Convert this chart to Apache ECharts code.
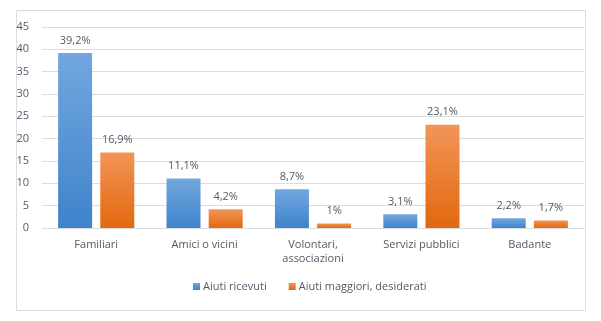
<!DOCTYPE html>
<html><head><meta charset="utf-8">
<script src="https://cdn.jsdelivr.net/npm/echarts@6/dist/echarts.min.js"></script>
<style>html,body{margin:0;padding:0;background:#fff}#c{width:601px;height:321px}</style>
</head><body><div id="c"></div>
<script>
const categories = ['Familiari', 'Amici o vicini', 'Volontari,\nassociazioni', 'Servizi pubblici', 'Badante'];
const ricevuti = [39.2, 11.1, 8.7, 3.1, 2.2];
const desiderati = [16.9, 4.2, 1, 23.1, 1.7];
const seriesNames = ['Aiuti ricevuti', 'Aiuti maggiori, desiderati'];
const fmt = v => String(v.value).replace('.', ',') + '%';
const font = '"Open Sans", "Noto Sans", sans-serif';
const txt = '#525A66';
const grad = (a, b) => new echarts.graphic.LinearGradient(0, 0, 0, 1, [{offset: 0, color: a}, {offset: 1, color: b}]);
const chart = echarts.init(document.getElementById('c'), null, {renderer: 'canvas'});
chart.setOption({
  animation: false,
  textStyle: {fontFamily: font},
  graphic: [{type: 'rect', shape: {x: 16.5, y: 10.5, width: 569, height: 300}, style: {fill: 'none', stroke: '#D9DCE1', lineWidth: 1}, silent: true}],
  grid: {left: 42, top: 27, width: 542, height: 201},
  legend: {
    bottom: 24, left: 188, itemWidth: 7, itemHeight: 7, itemGap: 22,
    icon: 'rect',
    textStyle: {fontSize: 11, color: txt, fontFamily: font, padding: [0, 0, 0, -2]},
    data: seriesNames
  },
  xAxis: {
    type: 'category', data: categories,
    axisLine: {lineStyle: {color: '#D9DCE1'}},
    axisTick: {show: false},
    axisLabel: {color: txt, fontSize: 11, margin: 10, lineHeight: 14, fontFamily: font}
  },
  yAxis: {
    type: 'value', min: 0, max: 45, interval: 5,
    axisLine: {show: false}, axisTick: {show: false},
    splitLine: {lineStyle: {color: '#D9DCE1'}},
    axisLabel: {color: txt, fontSize: 11, margin: 13, fontFamily: font}
  },
  series: [
    {name: seriesNames[0], type: 'bar', data: ricevuti, barWidth: 34, barGap: '24%',
     itemStyle: {color: grad('#72A7DF', '#3F83CB')},
     label: {show: true, position: 'top', distance: 7, formatter: fmt, color: txt, fontSize: 11, fontFamily: font}},
    {name: seriesNames[1], type: 'bar', data: desiderati, barWidth: 34,
     itemStyle: {color: grad('#F29558', '#E2680F')},
     label: {show: true, position: 'top', distance: 7, formatter: fmt, color: txt, fontSize: 11, fontFamily: font}}
  ]
});
</script></body></html>
